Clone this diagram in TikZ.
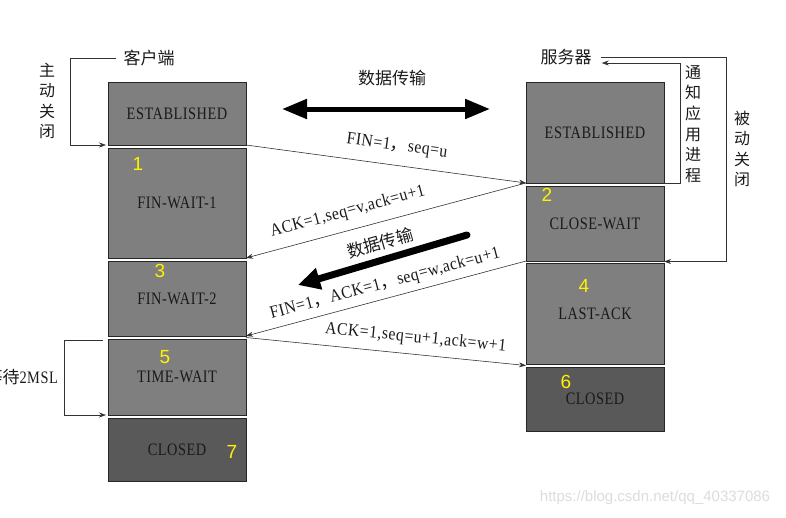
\documentclass[tikz,border=0pt]{standalone}
\usepackage{fontspec}
\setmainfont{Liberation Serif}
\newfontfamily\cjk{Noto Sans CJK SC}
\newfontfamily\lab[FakeStretch=0.82,LetterSpace=3]{Liberation Serif}
\newfontfamily\msg[FakeStretch=0.9,LetterSpace=3]{Liberation Serif}
\newfontfamily\numf{Liberation Sans}
\usetikzlibrary{arrows.meta,calc}
\definecolor{boxgray}{HTML}{7F7F7F}
\definecolor{darkbox}{HTML}{595959}
\definecolor{inkc}{HTML}{1A1A1A}
\definecolor{wmark}{HTML}{DCDCDC}
\tikzset{
  stbox/.style={draw=black!85, line width=0.8pt, fill=boxgray, inner sep=0pt, outer sep=0pt,
    minimum width=138pt, anchor=north west, text=inkc,
    font=\lab\fontsize{17.5}{20}\selectfont},
  closedbox/.style={stbox, fill=darkbox},
  conn/.style={draw=black!80, line width=0.6pt, -{Stealth[length=7pt,width=5pt]}},
  lbl/.style={font=\msg\fontsize{17.5}{20}\selectfont, text=inkc, inner sep=0pt, sloped},
  cn/.style={font=\cjk\fontsize{17}{20}\selectfont, text=inkc, inner sep=0pt},
  vl/.style={font=\cjk\fontsize{16}{20.6}\selectfont, text=inkc, inner sep=0pt, align=center},
  numl/.style={font=\numf\fontsize{19}{22}\selectfont, text=yellow, inner sep=0pt},
  bigarrow/.style={line width=5pt, draw=black}
}
\begin{document}
\begin{tikzpicture}[x=1pt,y=-1pt]
\useasboundingbox (0,0) rectangle (786,517);
% client boxes
\node[stbox, minimum height=63pt] (e1) at (108,82) {ESTABLISHED};
\node[stbox, minimum height=110pt] (fw1) at (108,148) {FIN-WAIT-1};
\node[stbox, minimum height=75pt] (fw2) at (108,261) {FIN-WAIT-2};
\node[stbox, minimum height=76pt] (tw) at (108,339) {TIME-WAIT};
\node[closedbox, minimum height=63pt] (c1) at (108,418) {CLOSED};
% server boxes
\node[stbox, minimum height=101pt] (se) at (526,82) {ESTABLISHED};
\node[stbox, minimum height=75pt] (cw) at (526,186) {CLOSE-WAIT};
\node[stbox, minimum height=101pt] (la) at (526,263) {LAST-ACK};
\node[closedbox, minimum height=64pt] (c2) at (526,367) {CLOSED};
% numbers
\node[numl] (n1) at (138,164) {1};
\node[numl] (n2) at (547,195) {2};
\node[numl] (n3) at (160,271) {3};
\node[numl] (n4) at (584,286) {4};
\node[numl] (n5) at (165,357) {5};
\node[numl] (n6) at (566,382) {6};
\node[numl] (n7) at (232,452) {7};
% titles
\node[cn] (cl) at (149,58) {客户端};
\node[cn] (sv) at (566,57) {服务器};
\node[vl] (zd) at (47,101) {主\\动\\关\\闭};
\node[vl] (tz) at (693,124) {通\\知\\应\\用\\进\\程};
\node[vl] (bd) at (742,149) {被\\动\\关\\闭};
\node[cn, anchor=east] (ml) at (58,377) {等待{\lab\fontsize{17.5}{20}\selectfont 2MSL}};
% brackets
\coordinate (cb) at (70,58);
\draw[conn] ([xshift=-7pt]cl.west) -- (cb |- cl.west) |- ([xshift=-2pt]e1.south west);
\coordinate (pc) at (726,57);
\draw[conn] (se.south east) -- ++(16,0) |- ([xshift=10pt,yshift=-6pt]sv.east);
\draw[conn] ([xshift=9pt]sv.east) -- (pc |- sv.east) |- ([yshift=-0.5pt]cw.south east);
\draw[conn] ([xshift=-5pt,yshift=-1pt]tw.north west) -- ++(-39,0) |- ([xshift=-2pt]tw.south west);
% data transfer arrows
\coordinate (d1) at (282,109);
\coordinate (d2) at (490,109);
\draw[bigarrow, {Triangle[length=25pt,width=19pt]}-{Triangle[length=25pt,width=19pt]}] (d1) -- (d2);
\node[cn] (dt1) at (392,78) {数据传输};
\coordinate (d3) at (467,235);
\coordinate (d4) at (298,285);
\draw[line width=7pt, line cap=round, -{Triangle[length=22pt,width=21pt]}] (d3) -- (d4);
\node[cn, rotate=16] (dt2) at (380,243) {数据传输};
% messages
\draw[conn] (e1.south east) -- node[lbl, above=11pt, pos=0.53] {FIN=1{\cjk ，}seq=u} (se.south west);
\draw[conn] (se.south west) -- node[lbl, above=10pt, pos=0.62] {ACK=1,seq=v,ack=u+1} (fw1.south east);
\draw[conn] (cw.south west) -- node[lbl, above=6pt, pos=0.49] {FIN=1{\cjk ，}ACK=1{\cjk ，}seq=w,ack=u+1} (fw2.south east);
\draw[conn] ($(fw2.south east)!0.5!(tw.north east)$) -- node[lbl, above=8pt, pos=0.6] {ACK=1,seq=u+1,ack=w+1} ($(la.south west)!0.5!(c2.north west)$);
% watermark
\node[font=\numf\fontsize{15}{18}\selectfont, text=wmark, inner sep=0pt] (wm) at (655,498) {https://blog.csdn.net/qq\_40337086};
\end{tikzpicture}
\end{document}
